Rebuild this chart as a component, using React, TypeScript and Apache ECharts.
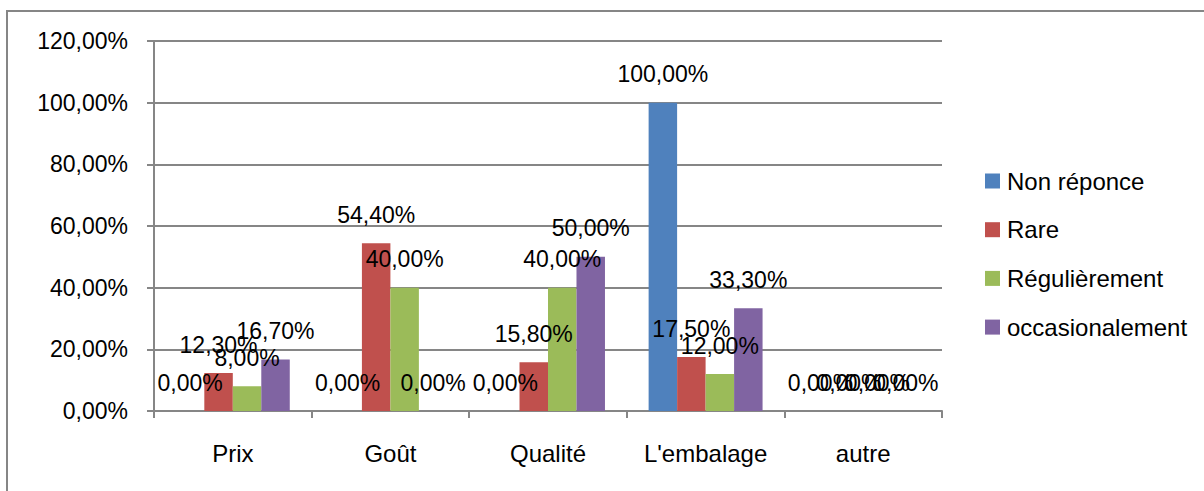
import React, { useEffect, useRef } from "react";
import * as echarts from "echarts";

const categories = ["Prix", "Goût", "Qualité", "L'embalage", "autre"];
const seriesNames = ["Non réponce", "Rare", "Régulièrement", "occasionalement"];
const nonReponce = [0, 0, 0, 100, 0];
const rare = [12.3, 54.4, 15.8, 17.5, 0];
const regulierement = [8, 40, 40, 12, 0];
const occasionalement = [16.7, 0, 50, 33.3, 0];
const colors = ["#4F81BD", "#C0504D", "#9BBB59", "#8064A2"];

const FONT = "'Liberation Sans', Arial, sans-serif";
const fmt = (v: number) => v.toFixed(2).replace(".", ",") + "%";

export default function App() {
  const ref = useRef<HTMLDivElement>(null);
  useEffect(() => {
    if (!ref.current) return;
    const chart = echarts.init(ref.current, null, { renderer: "svg" });
    const data = [nonReponce, rare, regulierement, occasionalement];
    chart.setOption({
      animation: false,
      textStyle: { fontFamily: FONT },
      graphic: [
        {
          type: "rect",
          shape: { x: 7, y: 11, width: 1210, height: 500 },
          style: { fill: "none", stroke: "#868686", lineWidth: 2 },
          silent: true,
          z: -1,
        },
      ],
      grid: { left: 154, right: 262, top: 41, bottom: 80 },
      legend: {
        orient: "vertical",
        left: 985,
        top: 169,
        padding: 0,
        itemWidth: 15,
        itemHeight: 15,
        itemGap: 24.7,
        icon: "rect",
        data: seriesNames,
        textStyle: { fontSize: 24, lineHeight: 24, color: "#000", fontFamily: FONT, padding: [0, 0, 0, 2] },
      },
      xAxis: {
        type: "category",
        data: categories,
        axisLine: { lineStyle: { color: "#868686", width: 2 } },
        axisTick: { show: true, alignWithLabel: false, length: 7, lineStyle: { color: "#868686", width: 2 } },
        axisLabel: { interval: 0, fontSize: 24, color: "#000", margin: 30, fontFamily: FONT },
        splitLine: { show: false },
      },
      yAxis: {
        type: "value",
        min: 0,
        max: 120,
        interval: 20,
        axisLine: { show: true, lineStyle: { color: "#868686", width: 2 } },
        axisTick: { show: true, length: 7, lineStyle: { color: "#868686", width: 2 } },
        axisLabel: { fontSize: 23, color: "#000", margin: 26, formatter: (v: number) => fmt(v), fontFamily: FONT },
        splitLine: { show: true, lineStyle: { color: "#868686", width: 2 } },
      },
      series: seriesNames.map((name, i) => ({
        name,
        type: "bar",
        data: data[i],
        barGap: "0%",
        barCategoryGap: "27.7%",
        itemStyle: { color: colors[i] },
        label: {
          show: true,
          position: "top",
          distance: 17,
          fontSize: 23,
          lineHeight: 23,
          color: "#000",
          fontFamily: FONT,
          formatter: (p: any) => fmt(p.value),
        },
        labelLayout: { hideOverlap: false },
      })),
    });
    return () => chart.dispose();
  }, []);
  return (
    <div
      ref={ref}
      style={{ position: "fixed", left: 0, top: 0, width: 1204, height: 491, background: "#fff" }}
    />
  );
}
